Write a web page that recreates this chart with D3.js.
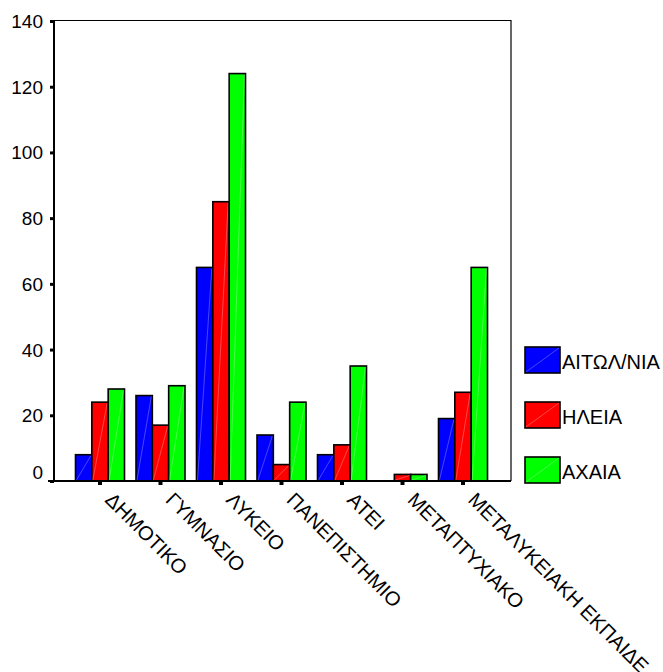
<!DOCTYPE html>
<html><head><meta charset="utf-8">
<script src="https://cdn.jsdelivr.net/npm/d3@7"></script>
<style>body{margin:0;background:#fff}svg{display:block}text{font-family:"Liberation Sans",Arial,sans-serif;fill:#000}</style>
</head><body>
<svg id="c" width="663" height="672"></svg>
<script>
const categories = ["ΔΗΜΟΤΙΚΟ","ΓΥΜΝΑΣΙΟ","ΛΥΚΕΙΟ","ΠΑΝΕΠΙΣΤΗΜΙΟ","ΑΤΕΙ","ΜΕΤΑΠΤΥΧΙΑΚΟ","ΜΕΤΑΛΥΚΕΙΑΚΗ ΕΚΠΑΙΔΕ"];
const seriesNames = ["ΑΙΤΩΛ/ΝΙΑ","ΗΛΕΙΑ","ΑΧΑΙΑ"];
const aitoliaValues = [8, 26, 65, 14, 8, 0, 19];
const ileiaValues   = [24, 17, 85, 5, 11, 2, 27];
const achaiaValues  = [28, 29, 124, 24, 35, 2, 65];
const seriesColors = ["#0000ff","#ff0000","#00ff00"];
const yTicks = [0,20,40,60,80,100,120,140];

(function(){
const seriesValues = [aitoliaValues, ileiaValues, achaiaValues];
const svg = d3.select("#c");
const pL = 54, pR = 511, pT = 21, pB = 481;

const y = d3.scaleLinear().domain([0,140]).range([pB, pT]);
const x = d3.scaleBand().domain(categories).range([69.75, 493.25]).paddingInner(0.19).paddingOuter(0.095);
const xs = d3.scaleBand().domain(seriesNames).range([0, x.bandwidth()]);

// frame top/right
svg.append("line").attr("x1",pL).attr("x2",pR).attr("y1",pT-0.5).attr("y2",pT-0.5).attr("stroke","#000").attr("stroke-width",1.2);
svg.append("line").attr("x1",pR).attr("x2",pR).attr("y1",pT-1).attr("y2",pB).attr("stroke","#000").attr("stroke-width",1.2);

// bars
const data = [];
categories.forEach((c,i)=>seriesNames.forEach((s,j)=>data.push({c,s,j,v:seriesValues[j][i]})));
const g = svg.append("g");
data.filter(d=>d.v>0).forEach(d=>{
  const bx = x(d.c)+xs(d.s), bw = xs.bandwidth(), by = y(d.v), bh = y(0)-y(d.v);
  g.append("rect").attr("x",bx).attr("y",by).attr("width",bw).attr("height",bh)
    .attr("fill",seriesColors[d.j]).attr("stroke","#000").attr("stroke-width",1.6);
  g.append("line").attr("x1",bx+1).attr("y1",y(0)-1).attr("x2",bx+bw-1).attr("y2",by+1)
    .attr("stroke","#fff").attr("stroke-opacity",0.35).attr("stroke-width",0.8);
});

// y axis
const yAxis = d3.axisLeft(y).tickValues(yTicks).tickSize(4).tickPadding(7);
const ya = svg.append("g").attr("transform",`translate(${pL},0)`).call(yAxis);
ya.select(".domain").remove();
ya.selectAll(".tick line").attr("stroke","#000").attr("stroke-width",3);
ya.selectAll(".tick text").style("font-size","19px").attr("font-family",null)
  .attr("dy", d => d === 0 ? "-0.12em" : "0.34em");
svg.append("line").attr("x1",pL).attr("x2",pL).attr("y1",pT-1).attr("y2",pB+1).attr("stroke","#000").attr("stroke-width",2);

// x axis
const xAxis = d3.axisBottom(x).tickSize(0).tickFormat(()=>"" );
const xa = svg.append("g").attr("transform",`translate(0,${pB})`).call(xAxis);
xa.select(".domain").remove();
svg.append("line").attr("x1",pL-6).attr("x2",pR).attr("y1",pB).attr("y2",pB).attr("stroke","#000").attr("stroke-width",2);
categories.forEach(c=>{
  const cx = x(c)+x.bandwidth()/2;
  svg.append("rect").attr("x",cx-2).attr("y",pB).attr("width",4).attr("height",4).attr("fill","#000");
  svg.append("text").attr("transform",`translate(${cx+4},${pB+20}) rotate(45)`)
    .attr("text-anchor","start").style("font-size","20px").text(c);
});

// legend
const lg = svg.append("g");
seriesNames.forEach((s,j)=>{
  const ly = 347 + j*55;
  lg.append("rect").attr("x",525).attr("y",ly).attr("width",35).attr("height",26)
    .attr("fill",seriesColors[j]).attr("stroke","#000").attr("stroke-width",1.6);
  lg.append("line").attr("x1",526).attr("y1",ly+25).attr("x2",559).attr("y2",ly+1)
    .attr("stroke","#fff").attr("stroke-opacity",0.35).attr("stroke-width",0.8);
  lg.append("text").attr("x",562).attr("y",ly+22.3).style("font-size","20px").text(s);
});
})();
</script>
</body></html>
